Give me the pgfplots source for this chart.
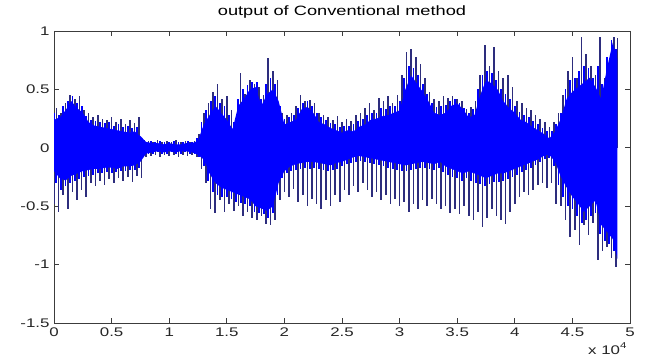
\documentclass[border=0pt]{standalone}
\usepackage{fontspec}
\setmainfont{Liberation Sans}[FakeStretch=1.35]
\usepackage{pgfplots}
\pgfplotsset{compat=1.18}
\definecolor{sig}{rgb}{0,0,1}
\definecolor{spk}{RGB}{45,45,125}
\definecolor{axc}{RGB}{60,60,60}
\begin{document}
\begin{tikzpicture}
\begin{axis}[
  scale only axis, width=576pt, height=292pt,
  xmin=0, xmax=50000, ymin=-1.5, ymax=1,
  scaled x ticks=false,
  xtick={0,5000,10000,15000,20000,25000,30000,35000,40000,45000,50000},
  xticklabels={0,0.5,1,1.5,2,2.5,3,3.5,4,4.5,5},
  ytick={-1.5,-1,-0.5,0,0.5,1},
  yticklabels={-1.5,-1,-0.5,0,0.5,1},
  tick align=inside, major tick length=5pt,
  axis line style={axc, line width=0.8pt},
  every tick/.style={axc, line width=0.7pt},
  tick label style={font=\fontsize{12.5}{14}\selectfont, text=black!85},
  xticklabel style={yshift=-1pt},
  yticklabel style={xshift=-1pt},
  title={output of Conventional method},
  title style={font=\fontsize{13.5}{15}\selectfont, at={(0.5,1)}, anchor=south, yshift=3pt},
]
% dark spikes (positive)
\addplot[ycomb, spk, line width=1.6pt, mark=none] coordinates {
(200,0.34)(600,0.30)(1000,0.38)(1400,0.45)(1800,0.42)(2200,0.44)(2600,0.32)(3000,0.30)(3400,0.26)(3800,0.28)
(4200,0.25)(4600,0.24)(5000,0.26)(5400,0.22)(5800,0.25)(6200,0.20)(6600,0.24)(7000,0.21)(7400,0.26)(7800,0.07)
(8200,0.06)(8600,0.05)(9000,0.07)(9400,0.05)(9800,0.06)(10200,0.05)(10600,0.07)(11000,0.05)(11400,0.06)(11800,0.05)
(12200,0.06)(12600,0.12)(13000,0.30)(13400,0.38)(13800,0.48)(14200,0.55)(14600,0.42)(15000,0.44)(15400,0.32)(15800,0.25)
(16200,0.64)(16600,0.46)(17000,0.58)(17400,0.55)(17800,0.52)(18200,0.45)(18600,0.77)(19000,0.66)(19400,0.58)(19800,0.30)
(20200,0.28)(20600,0.30)(21000,0.36)(21400,0.45)(21800,0.40)(22200,0.41)(22600,0.38)(23000,0.30)(23400,0.28)(23800,0.26)
(24200,0.24)(24600,0.27)(25000,0.22)(25400,0.25)(25800,0.23)(26200,0.28)(26600,0.30)(27000,0.34)(27400,0.38)(27800,0.32)
(28200,0.43)(28600,0.40)(29000,0.44)(29400,0.38)(29800,0.45)(30200,0.62)(30600,0.82)(31000,0.85)(31400,0.78)(31800,0.72)
(32200,0.60)(32600,0.48)(33000,0.42)(33400,0.40)(33800,0.44)(34200,0.43)(34600,0.44)(35000,0.42)(35400,0.40)(35800,0.33)
(36200,0.35)(36600,0.40)(37000,0.62)(37400,0.88)(37800,0.70)(38200,0.86)(38600,0.66)(39000,0.60)(39400,0.62)(39800,0.52)
(40200,0.40)(40600,0.38)(41000,0.34)(41400,0.32)(41800,0.28)(42200,0.25)(42600,0.22)(43000,0.18)(43400,0.22)(43800,0.30)
(44200,0.45)(44600,0.66)(45000,0.78)(45400,0.60)(45800,0.95)(46200,0.80)(46600,0.70)(47000,0.62)(47400,0.95)(47800,0.60)
(48200,0.72)(48600,0.95)(48900,0.94)
};
% dark spikes (negative)
\addplot[ycomb, spk, line width=1.6pt, mark=none] coordinates {
(0,-0.48)(400,-0.55)(800,-0.40)(1200,-0.52)(1600,-0.38)(2000,-0.45)(2400,-0.36)(2800,-0.42)(3200,-0.30)(3600,-0.33)
(4000,-0.28)(4400,-0.32)(4800,-0.27)(5200,-0.30)(5600,-0.26)(6000,-0.28)(6400,-0.25)(6800,-0.29)(7200,-0.24)(7600,-0.26)
(8000,-0.08)(8400,-0.07)(8800,-0.06)(9200,-0.08)(9600,-0.06)(10000,-0.07)(10400,-0.06)(10800,-0.08)(11200,-0.06)(11600,-0.07)
(12000,-0.06)(12400,-0.08)(12800,-0.18)(13200,-0.30)(13600,-0.52)(14000,-0.56)(14400,-0.45)(14800,-0.55)(15200,-0.48)(15600,-0.54)
(16000,-0.50)(16400,-0.58)(16800,-0.55)(17200,-0.60)(17600,-0.62)(18000,-0.58)(18400,-0.65)(18800,-0.66)(19200,-0.62)(19600,-0.45)
(20000,-0.38)(20400,-0.42)(20800,-0.35)(21200,-0.46)(21600,-0.40)(22000,-0.50)(22400,-0.44)(22800,-0.48)(23200,-0.52)(23600,-0.45)
(24000,-0.50)(24400,-0.40)(24800,-0.46)(25200,-0.36)(25600,-0.40)(26000,-0.33)(26400,-0.38)(26800,-0.30)(27200,-0.36)(27600,-0.42)
(28000,-0.38)(28400,-0.45)(28800,-0.40)(29200,-0.48)(29600,-0.44)(30000,-0.50)(30400,-0.46)(30800,-0.55)(31200,-0.48)(31600,-0.52)
(32000,-0.45)(32400,-0.50)(32800,-0.44)(33200,-0.48)(33600,-0.52)(34000,-0.50)(34400,-0.56)(34800,-0.52)(35200,-0.57)(35600,-0.50)
(36000,-0.58)(36400,-0.62)(36800,-0.55)(37200,-0.68)(37600,-0.60)(38000,-0.52)(38400,-0.58)(38800,-0.62)(39200,-0.65)(39600,-0.55)
(40000,-0.48)(40400,-0.42)(40800,-0.38)(41200,-0.40)(41600,-0.36)(42000,-0.32)(42400,-0.30)(42800,-0.34)(43200,-0.30)(43600,-0.48)
(44000,-0.50)(44400,-0.62)(44800,-0.76)(45200,-0.70)(45600,-0.83)(46000,-0.66)(46400,-0.75)(46800,-0.64)(47200,-0.96)(47600,-0.88)
(48000,-0.85)(48400,-0.94)(48800,-1.02)
};
% blue oscillation peaks (positive)
\addplot[ycomb, sig, line width=1.8pt, mark=none] coordinates {
(0,0.30)(400,0.28)(800,0.36)(1200,0.40)(1600,0.44)(2000,0.38)(2400,0.36)(2800,0.27)(3200,0.24)(3600,0.23)
(4000,0.22)(4400,0.21)(4800,0.22)(5200,0.19)(5600,0.20)(6000,0.18)(6400,0.19)(6800,0.17)(7200,0.18)(7600,0.06)
(8000,0.05)(8400,0.06)(8800,0.05)(9200,0.06)(9600,0.05)(10000,0.05)(10400,0.06)(10800,0.05)(11200,0.05)(11600,0.06)
(12000,0.05)(12400,0.08)(12800,0.22)(13200,0.32)(13600,0.40)(14000,0.44)(14400,0.38)(14800,0.36)(15200,0.28)(15600,0.22)
(16000,0.42)(16400,0.50)(16800,0.54)(17200,0.56)(17600,0.56)(18000,0.42)(18400,0.55)(18800,0.60)(19200,0.55)(19600,0.36)
(20000,0.25)(20400,0.26)(20800,0.28)(21200,0.34)(21600,0.38)(22000,0.40)(22400,0.36)(22800,0.30)(23200,0.26)(23600,0.24)
(24000,0.21)(24400,0.20)(24800,0.18)(25200,0.19)(25600,0.19)(26000,0.20)(26400,0.23)(26800,0.25)(27200,0.28)(27600,0.30)
(28000,0.30)(28400,0.34)(28800,0.33)(29200,0.36)(29600,0.36)(30000,0.40)(30400,0.60)(30800,0.70)(31200,0.68)(31600,0.62)
(32000,0.55)(32400,0.46)(32800,0.38)(33200,0.35)(33600,0.36)(34000,0.37)(34400,0.40)(34800,0.42)(35200,0.38)(35600,0.34)
(36000,0.30)(36400,0.33)(36800,0.50)(37200,0.62)(37600,0.66)(38000,0.64)(38400,0.58)(38800,0.50)(39200,0.46)(39600,0.42)
(40000,0.36)(40400,0.31)(40800,0.28)(41200,0.26)(41600,0.23)(42000,0.20)(42400,0.17)(42800,0.14)(43200,0.14)(43600,0.20)
(44000,0.30)(44400,0.50)(44800,0.58)(45200,0.60)(45600,0.66)(46000,0.70)(46400,0.68)(46800,0.60)(47200,0.70)(47600,0.55)
(48000,0.78)(48400,0.92)(48800,0.85)
};
% blue oscillation peaks (negative)
\addplot[ycomb, sig, line width=1.8pt, mark=none] coordinates {
(200,-0.30)(600,-0.36)(1000,-0.33)(1400,-0.30)(1800,-0.28)(2200,-0.27)(2600,-0.25)(3000,-0.24)(3400,-0.23)(3800,-0.22)
(4200,-0.22)(4600,-0.21)(5000,-0.22)(5400,-0.21)(5800,-0.20)(6200,-0.20)(6600,-0.19)(7000,-0.19)(7400,-0.17)(7800,-0.06)
(8200,-0.05)(8600,-0.05)(9000,-0.04)(9400,-0.05)(9800,-0.05)(10200,-0.04)(10600,-0.05)(11000,-0.05)(11400,-0.04)(11800,-0.05)
(12200,-0.05)(12600,-0.08)(13000,-0.16)(13400,-0.28)(13800,-0.38)(14200,-0.40)(14600,-0.42)(15000,-0.42)(15400,-0.44)(15800,-0.46)
(16200,-0.47)(16600,-0.48)(17000,-0.50)(17400,-0.55)(17800,-0.56)(18200,-0.57)(18600,-0.60)(19000,-0.56)(19400,-0.40)(19800,-0.26)
(20200,-0.22)(20600,-0.20)(21000,-0.19)(21400,-0.18)(21800,-0.17)(22200,-0.18)(22600,-0.17)(23000,-0.18)(23400,-0.19)(23800,-0.20)
(24200,-0.19)(24600,-0.18)(25000,-0.16)(25400,-0.14)(25800,-0.13)(26200,-0.12)(26600,-0.11)(27000,-0.12)(27400,-0.13)(27800,-0.14)
(28200,-0.15)(28600,-0.16)(29000,-0.17)(29400,-0.18)(29800,-0.19)(30200,-0.20)(30600,-0.20)(31000,-0.19)(31400,-0.18)(31800,-0.17)
(32200,-0.17)(32600,-0.18)(33000,-0.19)(33400,-0.17)(33800,-0.21)(34200,-0.23)(34600,-0.25)(35000,-0.26)(35400,-0.28)(35800,-0.26)
(36200,-0.28)(36600,-0.30)(37000,-0.31)(37400,-0.33)(37800,-0.31)(38200,-0.29)(38600,-0.29)(39000,-0.28)(39400,-0.27)(39800,-0.25)
(40200,-0.23)(40600,-0.21)(41000,-0.19)(41400,-0.17)(41800,-0.15)(42200,-0.12)(42600,-0.10)(43000,-0.09)(43400,-0.16)(43800,-0.32)
(44200,-0.42)(44600,-0.50)(45000,-0.52)(45400,-0.58)(45800,-0.64)(46200,-0.62)(46600,-0.58)(47000,-0.56)(47400,-0.74)(47800,-0.80)
(48200,-0.82)(48600,-0.88)
};
% solid body of the signal
\addplot[fill=sig, draw=none, mark=none] coordinates {
(0,0.24)(500,0.26)(1000,0.32)(1500,0.40)(2000,0.34)(2500,0.30)(3000,0.22)(3500,0.19)(4000,0.18)(4500,0.17)
(5000,0.16)(5500,0.15)(6000,0.14)(6500,0.13)(7000,0.14)(7500,0.10)(8000,0.05)(8500,0.04)(9000,0.04)(9500,0.03)
(10000,0.04)(10500,0.03)(11000,0.03)(11500,0.04)(12000,0.04)(12500,0.06)(13000,0.20)(13500,0.28)(14000,0.36)(14500,0.30)
(15000,0.24)(15500,0.16)(16000,0.36)(16500,0.42)(17000,0.50)(17500,0.52)(18000,0.36)(18500,0.46)(19000,0.50)(19500,0.40)
(20000,0.20)(20500,0.22)(21000,0.24)(21500,0.33)(22000,0.35)(22500,0.30)(23000,0.22)(23500,0.20)(24000,0.17)(24500,0.15)
(25000,0.13)(25500,0.15)(26000,0.14)(26500,0.18)(27000,0.20)(27500,0.24)(28000,0.25)(28500,0.27)(29000,0.28)(29500,0.30)
(30000,0.32)(30500,0.50)(31000,0.62)(31500,0.55)(32000,0.48)(32500,0.40)(33000,0.30)(33500,0.28)(34000,0.30)(34500,0.36)
(35000,0.38)(35500,0.33)(36000,0.26)(36500,0.28)(37000,0.45)(37500,0.58)(38000,0.55)(38500,0.50)(39000,0.40)(39500,0.34)
(40000,0.30)(40500,0.24)(41000,0.22)(41500,0.18)(42000,0.15)(42500,0.12)(43000,0.08)(43500,0.14)(44000,0.25)(44500,0.42)
(45000,0.48)(45500,0.52)(46000,0.56)(46500,0.60)(47000,0.52)(47500,0.42)(48000,0.68)(48500,0.90)(48900,0.76)
(48900,-0.95)(48500,-0.78)(48000,-0.72)(47500,-0.66)(47000,-0.45)(46500,-0.50)(46000,-0.55)(45500,-0.48)(45000,-0.42)(44500,-0.34)
(44000,-0.25)(43500,-0.12)(43000,-0.06)(42500,-0.07)(42000,-0.10)(41500,-0.12)(41000,-0.14)(40500,-0.16)(40000,-0.18)(39500,-0.20)
(39000,-0.22)(38500,-0.22)(38000,-0.24)(37500,-0.26)(37000,-0.24)(36500,-0.22)(36000,-0.20)(35500,-0.22)(35000,-0.20)(34500,-0.18)
(34000,-0.16)(33500,-0.12)(33000,-0.14)(32500,-0.13)(32000,-0.12)(31500,-0.13)(31000,-0.14)(30500,-0.15)(30000,-0.14)(29500,-0.13)
(29000,-0.12)(28500,-0.11)(28000,-0.10)(27500,-0.09)(27000,-0.08)(26500,-0.07)(26000,-0.08)(25500,-0.10)(25000,-0.12)(24500,-0.13)
(24000,-0.15)(23500,-0.14)(23000,-0.13)(22500,-0.12)(22000,-0.12)(21500,-0.13)(21000,-0.14)(20500,-0.16)(20000,-0.20)(19500,-0.30)
(19000,-0.50)(18500,-0.54)(18000,-0.52)(17500,-0.50)(17000,-0.44)(16500,-0.42)(16000,-0.40)(15500,-0.38)(15000,-0.36)(14500,-0.34)
(14000,-0.30)(13500,-0.22)(13000,-0.10)(12500,-0.06)(12000,-0.04)(11500,-0.03)(11000,-0.03)(10500,-0.04)(10000,-0.03)(9500,-0.04)
(9000,-0.03)(8500,-0.04)(8000,-0.05)(7500,-0.12)(7000,-0.15)(6500,-0.16)(6000,-0.16)(5500,-0.18)(5000,-0.17)(4500,-0.17)
(4000,-0.18)(3500,-0.18)(3000,-0.19)(2500,-0.20)(2000,-0.22)(1500,-0.24)(1000,-0.28)(500,-0.26)(0,-0.20)
};
\end{axis}
\node[anchor=base east, font=\fontsize{12.5}{14}\selectfont, text=black!85] at ([shift={(0pt,-31pt)}]current axis.south east) {x 10\raisebox{0.9ex}{\fontsize{8.5}{9}\selectfont 4}};
\pgfresetboundingbox
\path[use as bounding box] ([shift={(-54pt,-35pt)}]current axis.south west) rectangle ([shift={(16pt,31pt)}]current axis.north east);
\end{tikzpicture}
\end{document}
